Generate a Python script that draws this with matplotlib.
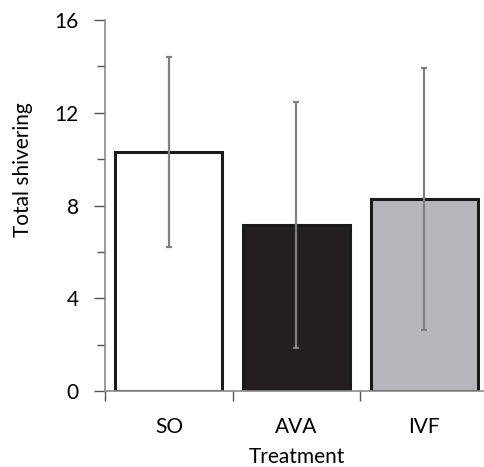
import numpy as np
import matplotlib.pyplot as plt

# Treatment groups and their mean total shivering with error
treatments = ["SO", "AVA", "IVF"]
means = [10.3, 7.15, 8.3]
errors = [4.1, 5.3, 5.65]
fills = ["white", "#231f20", "#b6b7ba"]

plt.rcParams['font.family'] = ['Lato', 'DejaVu Sans']

fig = plt.figure(figsize=(4.85, 4.67), dpi=100)
ax = fig.add_axes([105 / 485, 76 / 467, 383 / 485, 371 / 467])

x = np.arange(len(treatments))
ax.bar(x, means, width=0.84, color=fills, edgecolor="#1a1a1a", linewidth=2.2, zorder=2)
ax.errorbar(x, means, yerr=errors, fmt="none", ecolor="#808080",
            elinewidth=1.6, capsize=2.5, capthick=1.6, zorder=3)

ax.set_xlim(-0.5, 2.5)
ax.set_ylim(0, 16)

ax.set_yticks([0, 4, 8, 12, 16])
ax.set_yticks([2, 6, 10, 14], minor=True)
ax.tick_params(axis="y", which="major", length=8, width=1, color="#555555",
               labelsize=15, pad=11)
ax.tick_params(axis="y", which="minor", length=6, width=1, color="#555555")

# category labels at centers, tick marks at boundaries
ax.set_xticks(x)
ax.set_xticklabels(treatments)
ax.set_xticks([-0.5, 0.5, 1.5, 2.5], minor=True)
ax.tick_params(axis="x", which="major", length=0, labelsize=15, pad=19)
ax.tick_params(axis="x", which="minor", length=7, width=1, color="#555555")

for side in ["top", "right"]:
    ax.spines[side].set_visible(False)
for side in ["left", "bottom"]:
    ax.spines[side].set_color("#8a8a8a")
    ax.spines[side].set_linewidth(1.2)

ax.set_ylabel("Total shivering", fontsize=15, va="center")
ax.yaxis.set_label_coords(-0.214, 0.596)
ax.set_xlabel("Treatment", fontsize=15, va="center")
ax.xaxis.set_label_coords(0.5, -0.178)

fig.savefig("out.png", dpi=100)
